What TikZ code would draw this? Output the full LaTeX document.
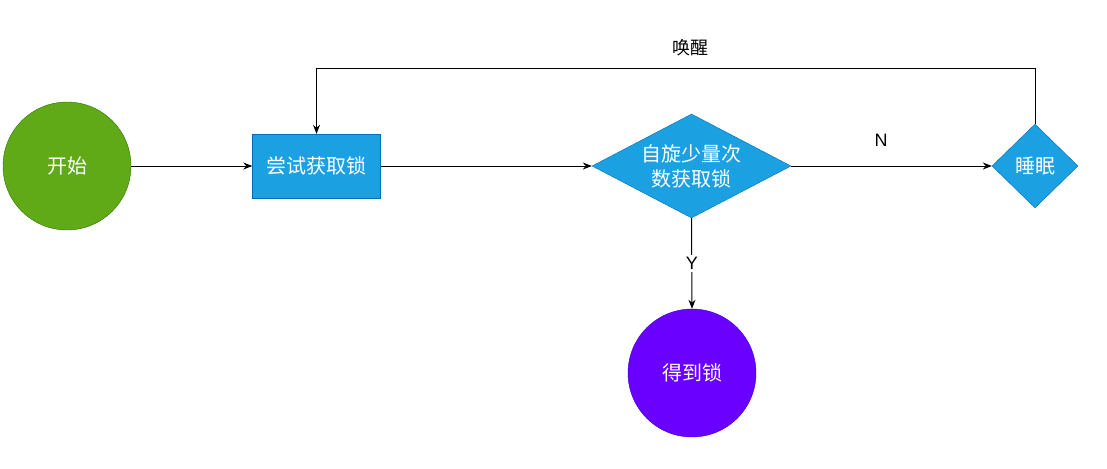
\documentclass[tikz,border=0pt]{standalone}
\usepackage{fontspec}
\setmainfont{Liberation Sans}
\newfontfamily\cjk{Noto Sans CJK SC}
\usetikzlibrary{shapes.geometric,arrows.meta}
\definecolor{bluefill}{HTML}{1BA1E2}
\definecolor{bluestroke}{HTML}{006EAF}
\definecolor{greenfill}{HTML}{60A917}
\definecolor{greenstroke}{HTML}{2D7600}
\definecolor{purplefill}{HTML}{6A00FF}
\definecolor{purplestroke}{HTML}{3700CC}
\tikzset{
  x=1pt, y=-1pt,
  nodefont/.style={text=white, font=\cjk\fontsize{20}{25}\selectfont, align=center},
  nodetext/.style={nodefont, inner sep=0pt},
  startcircle/.style={circle, draw=greenstroke, fill=greenfill, minimum size=128pt, nodetext},
  endcircle/.style={circle, draw=purplestroke, fill=purplefill, minimum size=128pt, nodetext},
  procbox/.style={rectangle, draw=bluestroke, fill=bluefill, minimum width=128pt, minimum height=64pt, nodetext},
  decision/.style={diamond, draw=bluestroke, fill=bluefill, inner sep=0pt},
  conn/.style={draw=black, line width=1pt, -{Stealth[length=9pt,width=7pt]}},
  lbl/.style={font=\cjk\fontsize{18}{22}\selectfont, text=black, fill=white, inner sep=1pt},
  lbllatin/.style={font=\fontsize{18}{22}\selectfont, text=black, fill=white, inner sep=2pt}
}
\begin{document}
\begin{tikzpicture}
\useasboundingbox (0,0) rectangle (1107,468);
\node[startcircle] (start) at (67,166) {开始};
\node[procbox] (try) at (316.5,166) {尝试获取锁};
\node[decision, minimum width=199pt, minimum height=104pt] (spin) at (691.5,166) {};
\node[nodefont, inner sep=0pt] (spintext) at (691.5,166) {自旋少量次\\数获取锁};
\node[decision, minimum width=86pt, minimum height=84pt] (sleep) at (1035,166) {};
\node[nodefont, inner sep=0pt] (sleeptext) at (1035,166) {睡眠};
\node[endcircle] (got) at (692,373) {得到锁};
\coordinate (tr) at (1035,69);
\coordinate (tl) at (316.5,69);
\draw[conn] (start) -- (try);
\draw[conn] (try) -- (spin);
\draw[conn] (spin) -- (sleep);
\node[lbllatin] (nlab) at (881,140) {N};
\draw[conn] (sleep.north) -- (tr) -- (tl) -- (try.north);
\node[lbl] (wake) at (690,48) {唤醒};
\draw[conn] (spin.south) -- (got.north) node[pos=0.5, lbllatin] (ylab) {Y};
\end{tikzpicture}
\end{document}
